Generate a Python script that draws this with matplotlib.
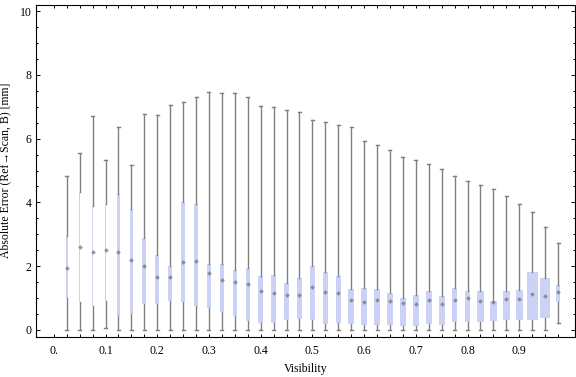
import matplotlib
matplotlib.use("Agg")
import matplotlib.pyplot as plt
from matplotlib.ticker import FixedLocator, MultipleLocator

# visibility bins (box positions)
visibility = [0.025, 0.05, 0.075, 0.1, 0.125, 0.15, 0.175, 0.2, 0.225, 0.25,
              0.275, 0.3, 0.325, 0.35, 0.375, 0.4, 0.425, 0.45, 0.475, 0.5,
              0.525, 0.55, 0.575, 0.6, 0.625, 0.65, 0.675, 0.7, 0.725, 0.75,
              0.775, 0.8, 0.825, 0.85, 0.875, 0.9, 0.925, 0.95, 0.975]

# absolute error statistics [mm]
whisker_low = [0.0, 0.0, 0.0, 0.05, 0.0, 0.0, 0.0, 0.0, 0.0, 0.0,
               0.0, 0.0, 0.0, 0.0, 0.0, 0.0, 0.0, 0.0, 0.0, 0.0,
               0.0, 0.0, 0.0, 0.0, 0.0, 0.0, 0.0, 0.0, 0.0, 0.0,
               0.0, 0.0, 0.0, 0.0, 0.0, 0.0, 0.0, 0.0, 0.23]
q1 = [1.01, 0.89, 0.76, 0.92, 0.45, 0.51, 0.82, 0.82, 0.90, 0.89,
      0.76, 0.69, 0.57, 0.45, 0.29, 0.23, 0.23, 0.32, 0.35, 0.32,
      0.20, 0.23, 0.20, 0.17, 0.17, 0.17, 0.13, 0.13, 0.20, 0.17,
      0.24, 0.26, 0.26, 0.29, 0.32, 0.30, 0.32, 0.39, 0.88]
median = [1.93, 2.61, 2.45, 2.51, 2.45, 2.18, 2.02, 1.67, 1.67, 2.14,
          2.16, 1.79, 1.56, 1.49, 1.43, 1.21, 1.15, 1.10, 1.10, 1.35,
          1.18, 1.15, 0.94, 0.87, 0.93, 0.91, 0.86, 0.82, 0.95, 0.82,
          0.95, 0.99, 0.91, 0.88, 0.97, 0.97, 1.14, 1.08, 1.20]
q3 = [2.95, 4.34, 3.90, 3.96, 4.25, 3.78, 2.88, 2.35, 2.01, 4.01,
      3.95, 2.07, 2.07, 1.88, 1.94, 1.69, 1.72, 1.47, 1.63, 2.01,
      1.82, 1.69, 1.29, 1.32, 1.29, 1.16, 1.00, 1.10, 1.22, 1.07,
      1.32, 1.22, 1.22, 0.91, 1.22, 1.25, 1.82, 1.63, 1.41]
whisker_high = [4.83, 5.55, 6.71, 5.33, 6.38, 5.16, 6.77, 6.73, 7.07, 7.14,
                7.30, 7.45, 7.42, 7.42, 7.30, 7.02, 6.99, 6.89, 6.85, 6.60,
                6.51, 6.43, 6.38, 5.94, 5.79, 5.63, 5.41, 5.32, 5.19, 5.04,
                4.82, 4.67, 4.54, 4.42, 4.19, 3.94, 3.69, 3.22, 2.73]

# drawn box widths in pixels
box_px = [1.7, 1.0, 1.0, 1.0, 3.3, 3.7, 4, 4, 4, 4,
          4, 4, 4, 4.3, 4.3, 4.7, 5, 5.3, 5, 5.3,
          5, 5, 6, 6, 5.7, 5.7, 6, 6, 5.7, 5.7,
          5.3, 5.3, 6.7, 7.3, 6.7, 7, 10.7, 9.7, 3.3]

px_per_unit = 517.0
box_color = "#cbd2f5"
line_color = "#808080"

plt.rcParams["font.family"] = ["Liberation Serif", "DejaVu Serif"]
plt.rcParams["font.size"] = 8.5

fig = plt.figure(figsize=(5.76, 3.77), dpi=100)
ax = fig.add_axes([0.0625, 0.107, 0.936, 0.8805])

stats = []
for lo, a, m, b, hi in zip(whisker_low, q1, median, q3, whisker_high):
    stats.append(dict(whislo=lo, q1=a, med=m, q3=b, whishi=hi, fliers=[]))

ax.bxp(stats, positions=visibility,
       widths=[w / px_per_unit for w in box_px],
       capwidths=[3.0 / px_per_unit] * len(visibility),
       patch_artist=True, manage_ticks=False, showfliers=False,
       boxprops=dict(facecolor=box_color, edgecolor="none", linewidth=0),
       whiskerprops=dict(color=line_color, linewidth=1.0),
       capprops=dict(color=line_color, linewidth=1.0),
       medianprops=dict(linestyle="none"))

ax.plot(visibility, median, linestyle="none", marker="D", markersize=2.4,
        color="#707070", markeredgewidth=0, alpha=0.7, zorder=5)

ax.set_xlim(-0.0344, 1.008)
ax.set_ylim(-0.21, 10.2)

xt = [i * 0.025 for i in range(40)]
ax.xaxis.set_major_locator(FixedLocator(xt))
ax.set_xticklabels(["0." if i == 0 else ("%.1f" % (i * 0.025) if i % 4 == 0 else "")
                    for i in range(40)])
ax.yaxis.set_major_locator(MultipleLocator(2))
ax.yaxis.set_minor_locator(MultipleLocator(0.5))

ax.tick_params(axis="x", which="both", direction="in", top=True, length=2.2,
               width=0.7, pad=6)
ax.tick_params(axis="y", which="major", direction="in", right=True, length=3,
               width=0.7, pad=3)
ax.tick_params(axis="y", which="minor", direction="in", right=True, length=1.6,
               width=0.7)
for s in ax.spines.values():
    s.set_linewidth(0.8)

ax.set_xlabel("Visibility", labelpad=4)
ax.set_ylabel("Absolute Error (Ref\u2192Scan, B) [mm]", labelpad=6)

fig.savefig("out.png", dpi=100)
